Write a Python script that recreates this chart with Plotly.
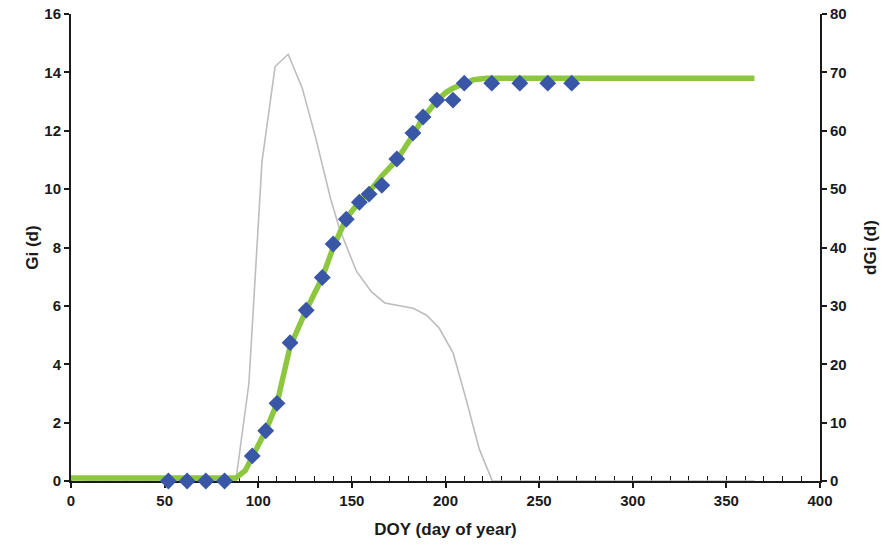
import plotly.graph_objects as go

# Observed Gi (blue diamonds)
obs_doy = [52, 62, 72, 82, 96.8, 104, 110, 117, 125.6, 134.2, 140, 147, 154, 159.2, 166, 174, 182.6, 188, 195.4, 204, 210, 224.7, 239.7, 254.6, 267.4]
obs_gi = [0, 0, 0, 0, 0.86, 1.72, 2.66, 4.74, 5.85, 6.97, 8.12, 8.97, 9.55, 9.83, 10.13, 11.03, 11.92, 12.47, 13.05, 13.05, 13.63, 13.63, 13.63, 13.63, 13.63]

# Modelled Gi (green line)
fit_doy = [0, 88, 93, 96.8, 104, 110, 117, 125.6, 134.2, 140, 147, 154, 159.2, 166, 174, 182.7, 188, 195.5, 200, 203.7, 209.4, 215, 222, 365]
fit_gi = [0.1, 0.1, 0.35, 0.86, 1.72, 2.66, 4.6, 5.85, 6.97, 8.0, 9.0, 9.57, 9.9, 10.45, 11.0, 11.85, 12.45, 13.03, 13.3, 13.45, 13.62, 13.75, 13.8, 13.8]

# dGi (gray line, right axis)
dgi_doy = [7, 88, 95, 102, 109, 116, 123.5, 131, 138.6, 143.6, 152.5, 160.5, 167.6, 182.7, 189.9, 196.6, 204.1, 207.7, 211, 218, 225, 365]
dgi_val = [0, 0, 16.7, 54.7, 71, 73.1, 67.3, 58.4, 48.4, 43, 35.9, 32.4, 30.5, 29.6, 28.4, 26.2, 21.9, 17.9, 14, 5.5, 0, 0]

x_ticks = [0, 50, 100, 150, 200, 250, 300, 350, 400]
gi_ticks = [0, 2, 4, 6, 8, 10, 12, 14, 16]
dgi_ticks = [0, 10, 20, 30, 40, 50, 60, 70, 80]

FONT = "Liberation Sans, Arial, sans-serif"

fig = go.Figure()
fig.add_trace(go.Scatter(x=dgi_doy, y=dgi_val, mode="lines",
                         line=dict(color="#BDBDBD", width=1.6), yaxis="y", showlegend=False))
fig.add_trace(go.Scatter(x=fit_doy, y=fit_gi, mode="lines",
                         line=dict(color="#8DC63F", width=5.5), yaxis="y2", showlegend=False))
fig.add_trace(go.Scatter(x=obs_doy, y=obs_gi, mode="markers",
                         marker=dict(symbol="diamond", size=13, color="#3A56A6"),
                         yaxis="y2", cliponaxis=False, showlegend=False))

axis_common = dict(showgrid=False, zeroline=False, showline=True, linecolor="#1a1a1a",
                   linewidth=2, ticks="outside", ticklen=5, tickwidth=1.5, tickcolor="#1a1a1a",
                   automargin=False,
                   tickfont=dict(family=FONT, size=15, color="#1a1a1a", weight="bold"))

fig.update_layout(
    width=885, height=546,
    margin=dict(l=71, r=65, t=14, b=65),
    paper_bgcolor="white", plot_bgcolor="white",
    xaxis=dict(range=[0, 400], tickvals=x_ticks, **axis_common,
               minor=dict(dtick=10, ticks="inside", ticklen=5, tickwidth=1, tickcolor="#1a1a1a"),
               title=dict(text="DOY (day of year)", standoff=15,
                          font=dict(family=FONT, size=17, color="#1a1a1a", weight="bold")),
               layer="below traces"),
    yaxis=dict(range=[0, 80], tickvals=dgi_ticks, side="right", **axis_common,
               title=dict(text="dGi (d)", standoff=18,
                          font=dict(family=FONT, size=17, color="#1a1a1a", weight="bold")),
               layer="below traces"),
    yaxis2=dict(range=[0, 16], tickvals=gi_ticks, side="left", overlaying="y", **axis_common,
                title=dict(text="Gi (d)", standoff=1,
                           font=dict(family=FONT, size=17, color="#1a1a1a", weight="bold")),
                layer="below traces"),
)

fig.write_html("out.html")
